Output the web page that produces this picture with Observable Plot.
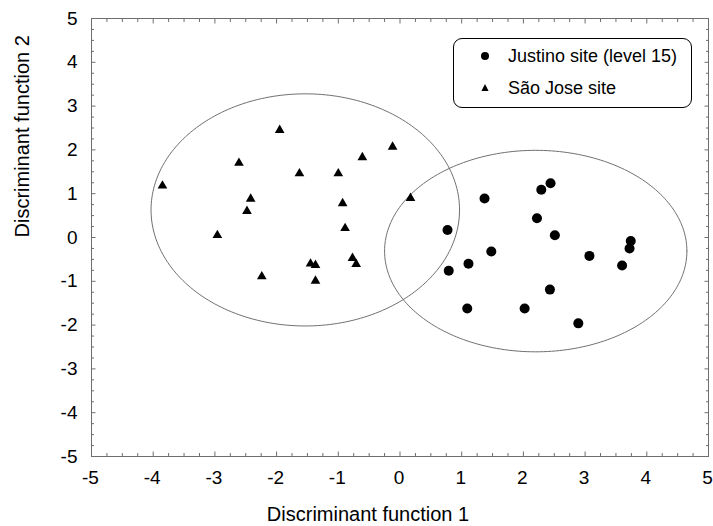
<!DOCTYPE html>
<html>
<head>
<meta charset="utf-8">
<script src="https://cdn.jsdelivr.net/npm/d3@7"></script>
<script src="https://cdn.jsdelivr.net/npm/@observablehq/plot@0.6"></script>
<style>
  body { margin: 0; background: #fff; }
  #wrap { position: relative; width: 713px; height: 526px; font-family: "Liberation Sans", Arial, sans-serif; }
  #legend { position: absolute; left: 453px; top: 38px; width: 237px; height: 68px; border: 1px solid #000; border-radius: 9px; background: #fff; font-size: 18px; color: #000; }
  #legend .item { position: absolute; left: 0; display: flex; align-items: center; white-space: nowrap; }
  #legend svg { margin-left: 26px; margin-right: 18px; }
</style>
</head>
<body>
<div id="wrap"></div>
<script>
// Data
const justinoX = [2.44, 2.29, 1.37, 2.22, 0.77, 2.51, 3.74, 3.72, 1.48, 3.07, 1.11, 0.79, 3.60, 2.43, 1.09, 2.02, 2.89];
const justinoY = [1.24, 1.09, 0.89, 0.44, 0.17, 0.05, -0.08, -0.25, -0.32, -0.42, -0.60, -0.76, -0.64, -1.19, -1.62, -1.62, -1.96];
const saoJoseX = [-1.95, -0.12, -0.61, -2.61, -1.63, -1.00, -3.85, 0.17, -2.42, -0.93, -2.48, -0.89, -2.96, -1.45, -1.37, -0.77, -0.71, -2.24, -1.37];
const saoJoseY = [2.45, 2.07, 1.83, 1.70, 1.46, 1.46, 1.18, 0.90, 0.88, 0.78, 0.60, 0.21, 0.05, -0.60, -0.63, -0.47, -0.61, -0.89, -0.99];
const seriesNames = ["Justino site (level 15)", "São Jose site"];
// Confidence ellipses: center x, center y, radius x, radius y
const ellipseCx = [2.20, -1.535];
const ellipseCy = [-0.31, 0.63];
const ellipseRx = [2.45, 2.50];
const ellipseRy = [2.30, 2.65];
const tickValues = [-5, -4, -3, -2, -1, 0, 1, 2, 3, 4, 5];
const xTitle = "Discriminant function 1";
const yTitle = "Discriminant function 2";

const justino = justinoX.map((x, i) => ({x, y: justinoY[i]}));
const saoJose = saoJoseX.map((x, i) => ({x, y: saoJoseY[i]}));
const ellipsePts = [];
ellipseCx.forEach((cx, k) => {
  for (let i = 0; i <= 240; i++) {
    const t = (i / 240) * 2 * Math.PI;
    ellipsePts.push({k, x: cx + ellipseRx[k] * Math.cos(t), y: ellipseCy[k] + ellipseRy[k] * Math.sin(t)});
  }
});
const minor = d3.range(-5, 5.001, 0.25).filter(v => !Number.isInteger(v));

const frameColor = "#6e6e6e";
const fmt = d => String(d);
const chart = Plot.plot({
  width: 713,
  height: 526,
  marginLeft: 91,
  marginRight: 5,
  marginTop: 18,
  marginBottom: 70,
  style: {fontFamily: "Liberation Sans, Arial, sans-serif", fontSize: "19px", color: "#000", background: "#fff", overflow: "visible"},
  x: {domain: [-5, 5]},
  y: {domain: [-5, 5]},
  marks: [
    Plot.frame({stroke: frameColor, strokeWidth: 1}),
    ...["bottom", "top"].flatMap(a => [
      Plot.axisX(minor, {anchor: a, tickSize: -3, text: null, label: null, stroke: frameColor}),
      Plot.axisX(tickValues, {anchor: a, tickSize: -4.5, text: null, label: null, stroke: frameColor})
    ]),
    ...["left", "right"].flatMap(a => [
      Plot.axisY(minor, {anchor: a, tickSize: -3, text: null, label: null, stroke: frameColor}),
      Plot.axisY(tickValues, {anchor: a, tickSize: -4.5, text: null, label: null, stroke: frameColor})
    ]),
    Plot.axisX(tickValues, {anchor: "bottom", tickSize: 0, tickPadding: 14, label: null, tickFormat: fmt, fontSize: 19, fill: "#000", dx: -1}),
    Plot.axisY(tickValues, {anchor: "left", tickSize: 0, tickPadding: 14, label: null, tickFormat: fmt, fontSize: 19, fill: "#000"}),
    Plot.line(ellipsePts, {x: "x", y: "y", z: "k", stroke: "#707070", strokeWidth: 1}),
    Plot.dot(justino, {x: "x", y: "y", r: 5, fill: "#000", stroke: null}),
    Plot.dot(saoJose, {x: "x", y: "y", r: 3.6, symbol: "triangle", fill: "#000", stroke: null}),
    Plot.text([xTitle], {frameAnchor: "bottom", dx: -32, dy: 64, text: d => d, fontSize: 20, fill: "#000"}),
    Plot.text([yTitle], {frameAnchor: "left", dx: -69, dy: 0, rotate: -90, text: d => d, fontSize: 20, fill: "#000"})
  ]
});
const wrap = document.getElementById("wrap");
wrap.appendChild(chart);

const legend = document.createElement("div");
legend.id = "legend";
const syms = [
  '<svg width="10" height="10" viewBox="-5 -5 10 10"><circle r="4" fill="#000"/></svg>',
  '<svg width="10" height="10" viewBox="-5 -5 10 10"><path d="M0,-4L3.6,3L-3.6,3Z" fill="#000"/></svg>'
];
seriesNames.forEach((name, i) => {
  const item = document.createElement("div");
  item.className = "item";
  item.style.top = (i === 0 ? 5 : 37) + "px";
  item.style.height = "24px";
  item.innerHTML = syms[i] + "<span></span>";
  item.querySelector("span").textContent = name;
  legend.appendChild(item);
});
wrap.appendChild(legend);
</script>
</body>
</html>
